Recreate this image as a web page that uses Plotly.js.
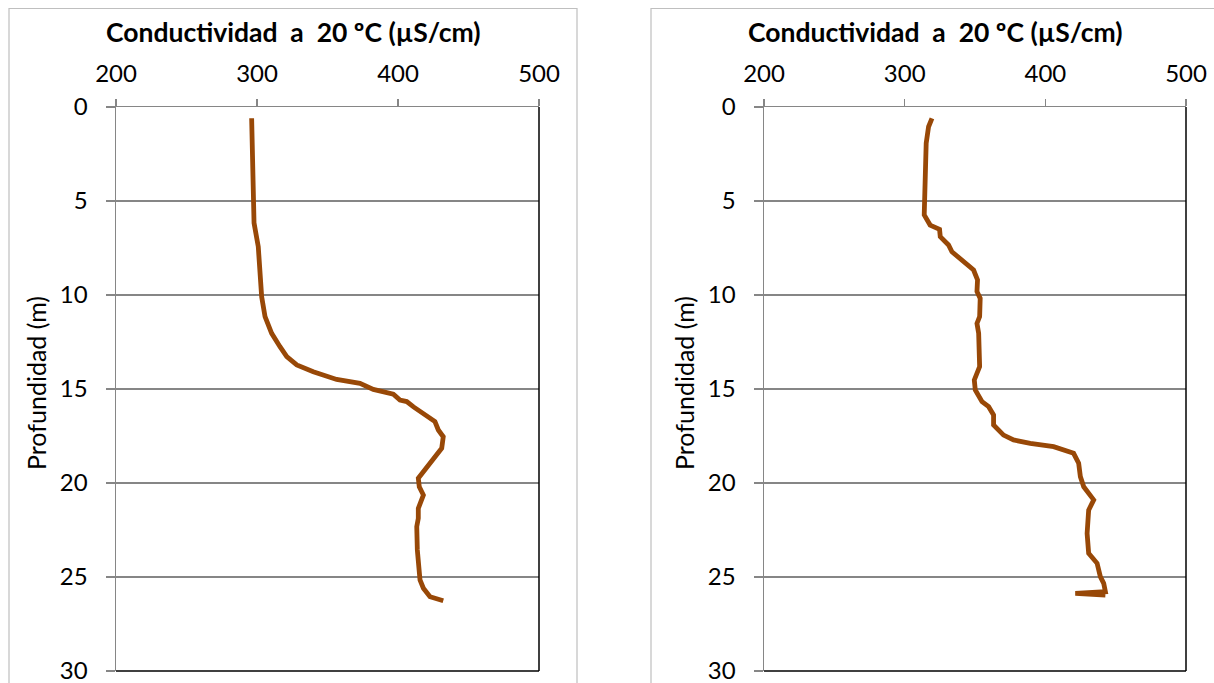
<!DOCTYPE html>
<html>
<head>
<meta charset="utf-8">
<script src="https://cdn.plot.ly/plotly-3.0.1.min.js"></script>
<style>html,body{margin:0;padding:0;background:#fff;}#chart{width:1214px;height:683px;}</style>
</head>
<body>
<div id="chart"></div>
<script>
// Left profile: conductivity (µS/cm) vs depth (m)
const leftCond = [296.2, 296.7, 297.4, 297.9, 300.9, 302.1, 303.3, 305.7, 310.4, 316.3, 321.1, 328.2, 339.9, 356.5, 373.0, 382.5, 396.7, 401.4, 406.2, 411.0, 418.0, 426.2, 428.6, 432.1, 431.0, 422.7, 418.0, 414.4, 415.1, 418.0, 414.4, 414.4, 413.3, 413.7, 415.6, 418.0, 422.7, 432.1];
const leftDepth = [0.60, 2.29, 4.95, 6.17, 7.43, 8.83, 10.09, 11.15, 12.04, 12.75, 13.28, 13.72, 14.08, 14.49, 14.70, 15.02, 15.28, 15.59, 15.67, 15.95, 16.29, 16.73, 17.18, 17.54, 18.15, 18.95, 19.49, 19.75, 20.20, 20.64, 21.35, 21.88, 22.32, 23.56, 25.16, 25.60, 26.05, 26.26];

// Right profile
const rightCond = [319.4, 317.0, 315.3, 314.6, 313.9, 313.9, 318.1, 324.8, 325.3, 331.2, 333.6, 341.9, 349.0, 351.8, 351.4, 353.7, 353.3, 351.4, 352.6, 353.3, 349.5, 350.2, 355.0, 359.7, 363.2, 363.2, 370.3, 377.4, 389.3, 405.9, 420.1, 423.7, 424.9, 427.3, 434.4, 430.8, 429.7, 430.8, 436.8, 439.1, 441.5, 442.7, 421.3, 442.7];
const rightDepth = [0.60, 1.05, 1.93, 3.17, 4.41, 5.74, 6.28, 6.51, 6.90, 7.34, 7.70, 8.23, 8.67, 9.20, 9.82, 10.18, 11.15, 11.51, 12.04, 13.81, 14.52, 15.05, 15.67, 15.94, 16.38, 16.91, 17.45, 17.71, 17.89, 18.07, 18.42, 18.95, 19.66, 20.20, 20.90, 21.44, 22.68, 23.74, 24.27, 24.98, 25.34, 25.78, 25.87, 25.96];

const xTicks = [200, 300, 400, 500];
const yTicks = [0, 5, 10, 15, 20, 25, 30];
const chartTitle = 'Conductividad  a  20 ºC (µS/cm)';
const yTitle = 'Profundidad (m)';

const W = 1214, H = 683;
const px = v => v / W;
const py = v => 1 - v / H;
const FONT = 'Lato, "Open Sans", sans-serif';
const lineColor = '#984807';

const traces = [
  {x: leftCond, y: leftDepth, xaxis: 'x', yaxis: 'y', mode: 'lines', line: {color: lineColor, width: 4.8}, hoverinfo: 'skip'},
  {x: rightCond, y: rightDepth, xaxis: 'x2', yaxis: 'y2', mode: 'lines', line: {color: lineColor, width: 4.8}, hoverinfo: 'skip'}
];

function xa(dom, anchor) {
  return {
    domain: dom, anchor: anchor, side: 'top', range: [200, 500], tickvals: xTicks,
    showgrid: false, zeroline: false, showline: true, linecolor: '#868686', linewidth: 1.5,
    ticks: 'outside', ticklen: 7, tickcolor: '#868686', tickwidth: 1.5,
    ticklabelstandoff: 7, ticklabeloverflow: 'allow',
    tickfont: {family: FONT, size: 24, color: '#000'}
  };
}
function ya(anchor) {
  return {
    domain: [py(671), py(107)], anchor: anchor, range: [30, 0], tickvals: yTicks,
    showgrid: true, gridcolor: '#868686', gridwidth: 1.5, zeroline: false,
    showline: true, linecolor: '#868686', linewidth: 1.5,
    ticks: 'outside', ticklen: 9, tickcolor: '#868686', tickwidth: 1.5,
    ticklabelstandoff: 13, ticklabeloverflow: 'allow',
    tickfont: {family: FONT, size: 24, color: '#000'}
  };
}

const shapes = [];
// chart boxes
shapes.push({type: 'rect', xref: 'paper', yref: 'paper', x0: px(9), x1: px(577), y0: py(720), y1: py(8.5), line: {color: '#bfbfbf', width: 1.2}, layer: 'below'});
shapes.push({type: 'rect', xref: 'paper', yref: 'paper', x0: px(651), x1: px(1225), y0: py(720), y1: py(8.5), line: {color: '#bfbfbf', width: 1.2}, layer: 'below'});
// plot area right & bottom borders (black)
[['x', 'y'], ['x2', 'y2']].forEach(([xr, yr]) => {
  shapes.push({type: 'line', xref: xr + ' domain', yref: yr + ' domain', x0: 1, x1: 1, y0: 0, y1: 1, line: {color: '#000', width: 1.5}});
  shapes.push({type: 'line', xref: xr + ' domain', yref: yr + ' domain', x0: 0, x1: 1, y0: 0, y1: 0, line: {color: '#000', width: 1.5}});
});

const annotations = [
  {text: '<b>' + chartTitle + '</b>', xref: 'paper', yref: 'paper', x: px(293), y: py(32), showarrow: false, xanchor: 'center', yanchor: 'middle', font: {family: FONT, size: 26.5, color: '#000'}},
  {text: '<b>' + chartTitle + '</b>', xref: 'paper', yref: 'paper', x: px(935), y: py(32), showarrow: false, xanchor: 'center', yanchor: 'middle', font: {family: FONT, size: 26.5, color: '#000'}},
  {text: yTitle, xref: 'paper', yref: 'paper', x: px(36), y: py(383), showarrow: false, textangle: -90, xanchor: 'center', yanchor: 'middle', font: {family: FONT, size: 25, color: '#000'}},
  {text: yTitle, xref: 'paper', yref: 'paper', x: px(684), y: py(383), showarrow: false, textangle: -90, xanchor: 'center', yanchor: 'middle', font: {family: FONT, size: 25, color: '#000'}}
];

const layout = {
  width: W, height: H,
  margin: {l: 0, r: 0, t: 0, b: 0},
  paper_bgcolor: '#fff', plot_bgcolor: '#fff',
  showlegend: false,
  xaxis: xa([px(116), px(539)], 'y'),
  yaxis: ya('x'),
  xaxis2: xa([px(764), px(1186)], 'y2'),
  yaxis2: ya('x2'),
  shapes: shapes,
  annotations: annotations
};

Plotly.newPlot('chart', traces, layout, {staticPlot: true, displayModeBar: false});
</script>
</body>
</html>
